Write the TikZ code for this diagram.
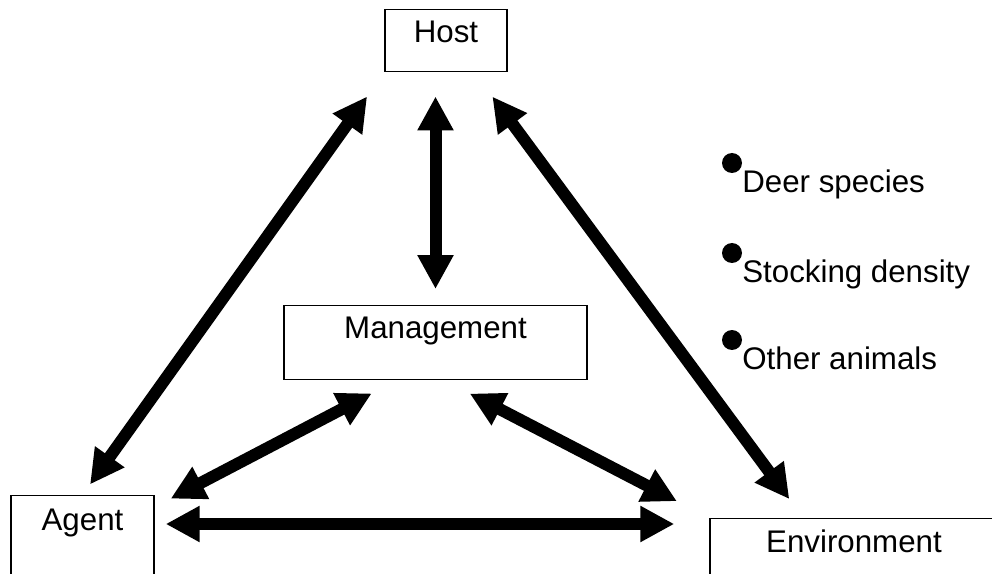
\documentclass[tikz,border=0pt]{standalone}
\usepackage{fontspec}
\setmainfont{Liberation Sans}
\usetikzlibrary{arrows.meta,calc}

\begin{document}
\begin{tikzpicture}[x=0.02cm, y=-0.02cm]
        \useasboundingbox (0,0) rectangle (992,574);
        \clip (0,0) rectangle (992,574);

        \begin{scope}[%
            every node/.style = {%
                rectangle,
                draw,
                line width = 0.85pt,
                inner sep = 0pt,
                anchor = north,
                align = center,
                font = \fontsize{17.8}{21}\selectfont
            }
        ]

            % Boxes, text sits near the top edge.
            \node[minimum width = 2.44cm, text height = 0.66cm, text depth = 0.58cm] (Host) at (446, 9) {Host};
            \node[minimum width = 6.06cm, text height = 0.66cm, text depth = 0.82cm] (Management) at (435.5, 305) {Management};
            \node[minimum width = 2.86cm, text height = 0.70cm, text depth = 1.30cm] (Agent) at (82.5, 495) {Agent};
            \node[minimum width = 5.76cm, text height = 0.68cm, text depth = 1.00cm] (Environment) at (854, 518) {Environment};
        \end{scope}

        \begin{scope}[%
            every node/.style = {%
                inner sep = 0pt,
                font = \fontsize{17.8}{21}\selectfont
            }
        ]

            % Factors listed beside the triangle.
            \node[circle, fill = black, minimum size = 0.4cm] (dotDeer) at (732, 163) {};
            \node[anchor = base west] (deer) at (742, 193) {Deer species};
            \node[circle, fill = black, minimum size = 0.4cm] (dotStocking) at (732, 253) {};
            \node[anchor = base west] (stocking) at (742, 283) {Stocking density};
            \node[circle, fill = black, minimum size = 0.4cm] (dotOther) at (732, 340) {};
            \node[anchor = base west] (other) at (742, 370) {Other animals};
        \end{scope}

        \begin{scope}[%
            > = {Triangle[length = 0.68cm, width = 0.68cm]},
            every edge/.style = {%
                draw = black,
                line width = 0.24cm
            }
        ]

            % Two-way links between the boxes.
            \path [<->] (Agent.north) edge[shorten < = 0.26cm, shorten > = 0.59cm] (Host.south west);
            \path [<->] (Management.north) edge[shorten < = 0.32cm, shorten > = 0.48cm] (Management.north |- Host.south);
            \path [<->] (Host.-48) edge[shorten < = 0.60cm, shorten > = 0.47cm] ($(Environment.north west)+(94,0)$);
            \path [<->] ($(Agent.north east)+(0,12)$) edge[shorten < = 0.36cm, shorten > = 0.56cm] ($(Management.south)+(-39,0)$);
            \path [<->] ($(Management.south)+(9,0)$) edge[shorten < = 0.57cm, shorten > = 0.73cm] (Environment.north west);
            \path [<->] ($(Agent.north east)+(0,29)$) edge[shorten < = 0.22cm, shorten > = 0.70cm] ($(Environment.north west)+(0,6)$);
        \end{scope}
    \end{tikzpicture}
\end{document}
